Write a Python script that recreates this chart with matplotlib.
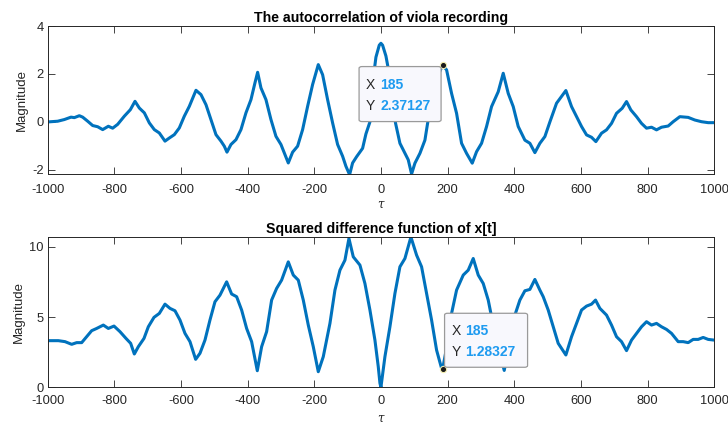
import numpy as np
import matplotlib
matplotlib.use("Agg")
from matplotlib import pyplot as plt
from matplotlib.patches import FancyBboxPatch

# autocorrelation r[tau]
tau_r = [-1000, -970, -950, -930, -920, -905, -895, -880, -865, -850, -835, -818, -805, -790,
         -770, -752, -738, -725, -710, -695, -680, -665, -648, -635, -620, -605, -590, -575,
         -555, -540, -525, -510, -495, -480, -470, -462, -450, -435, -420, -405, -390, -378,
         -370, -360, -345, -330, -315, -300, -290, -278, -265, -250, -235, -220, -205, -188,
         -175, -160, -145, -130, -115, -105, -94, -85, -73, -55, -45, -33, -25, -15, -5, 0,
         5, 15, 21, 30, 44, 57, 72, 82, 92, 102, 117, 132, 140, 150, 160, 172, 185, 197, 212,
         227, 242, 257, 274, 287, 302, 317, 332, 352, 367, 382, 397, 412, 432, 447, 462, 477,
         492, 507, 527, 542, 555, 572, 587, 602, 617, 632, 645, 662, 677, 692, 707, 724, 737,
         750, 767, 782, 797, 812, 827, 842, 862, 877, 897, 922, 942, 962, 982, 1000]
r_vals = [0.0, 0.03, 0.1, 0.2, 0.18, 0.26, 0.2, 0.03, -0.15, -0.2, -0.32, -0.18, -0.26, -0.1,
          0.24, 0.51, 0.86, 0.58, 0.38, -0.04, -0.32, -0.46, -0.8, -0.67, -0.53, -0.25, 0.24, 0.65,
          1.32, 1.14, 0.72, 0.1, -0.53, -0.8, -1.01, -1.26, -0.94, -0.74, -0.32, 0.38, 0.93, 1.63,
          2.07, 1.42, 0.93, 0.1, -0.6, -0.94, -1.29, -1.71, -1.26, -1.01, -0.32, 0.65, 1.56, 2.39,
          1.97, 0.93, -0.04, -0.94, -1.43, -1.85, -2.2, -1.71, -1.45, -1.1, -0.5, 0.0, 1.6, 2.7, 3.2, 3.28,
          3.2, 2.75, 2.3, 1.1, -0.06, -0.89, -1.31, -1.58, -2.17, -1.72, -1.31, -0.76, -0.06, 0.7, 1.35, 1.95, 2.37127, 2.17, 1.19,
          0.36, -0.89, -1.31, -1.72, -1.24, -0.89, -0.19, 0.64, 1.26, 2.03, 1.19, 0.64, -0.19, -0.76, -0.89, -1.28, -0.89,
          -0.61, 0.0, 0.78, 1.06, 1.31, 0.64, 0.22, -0.19, -0.54, -0.64, -0.82, -0.47, -0.33, -0.06, 0.36, 0.57, 0.85,
          0.5, 0.22, -0.06, -0.26, -0.22, -0.33, -0.22, -0.17, 0.01, 0.22, 0.19, 0.08, 0.01, -0.03, -0.03]

# squared difference function d[tau]
tau_d = [-1000, -968, -948, -928, -913, -898, -883, -868, -853, -833, -818, -801, -783, -765,
         -751, -740, -728, -711, -698, -681, -665, -648, -633, -618, -603, -588, -573, -556,
         -543, -528, -513, -498, -483, -463, -448, -433, -418, -403, -388, -371, -358, -343,
         -328, -313, -298, -278, -263, -248, -233, -218, -203, -188, -173, -153, -138, -123,
         -108, -96, -83, -63, -48, -33, -18, -8, -3, 0, 12, 27, 42, 57, 72, 90, 107, 122, 137,
         152, 167, 182, 185, 200, 212, 227, 247, 262, 277, 292, 307, 322, 330, 340, 355, 370, 385,
         402, 417, 432, 447, 462, 477, 487, 502, 517, 532, 555, 572, 587, 602, 617, 632, 644,
         657, 677, 692, 707, 722, 737, 752, 767, 782, 797, 812, 827, 842, 857, 872, 892, 907,
         922, 937, 952, 967, 982, 1000]
d_vals = [3.32, 3.32, 3.25, 3.06, 3.18, 3.18, 3.6, 4.03, 4.19, 4.43, 4.19, 4.36, 3.96, 3.48,
          3.13, 2.37, 2.89, 3.48, 4.31, 4.98, 5.26, 5.92, 5.62, 5.45, 4.79, 3.84, 3.25, 1.99,
          2.42, 3.36, 4.79, 6.09, 6.56, 7.51, 6.64, 6.45, 5.5, 4.19, 3.25, 1.18, 2.89, 3.96,
          6.21, 7.04, 7.63, 8.93, 7.99, 7.63, 6.21, 4.43, 2.89, 1.11, 2.18, 4.55, 6.92, 8.34,
          9.05, 10.6, 9.29, 8.7, 7.39, 5.5, 3.36, 1.47, 0.3, 0.0, 2.18, 4.31, 6.68, 8.58, 9.17, 10.7, 9.41, 8.58, 6.68,
          4.79, 2.65, 1.35, 1.28327, 3.2, 5.26, 6.92, 7.99, 8.34, 9.17, 7.99, 7.39, 6.21, 5.26, 4.0, 2.6, 1.2, 3.0,
          5.14, 6.21, 6.87, 6.97, 7.68, 6.92, 6.45, 5.5, 4.31, 3.13, 2.3, 3.6, 4.55, 5.5, 5.78, 5.92, 6.21,
          5.62, 5.14, 4.43, 3.6, 3.25, 2.61, 3.36, 3.84, 4.31, 4.67, 4.43, 4.55, 4.31, 4.12, 3.84, 3.25, 3.25,
          3.18, 3.41, 3.41, 3.55, 3.41, 3.36]

tip_x = 185
tip_r = 2.37127
tip_d = 1.28327

blue = '#0072BD'
tipblue = '#1E9BF0'
grey = '#262626'

plt.rcParams['font.family'] = ['Liberation Sans', 'DejaVu Sans']
plt.rcParams['mathtext.fontset'] = 'dejavuserif'
plt.rcParams['axes.unicode_minus'] = False

fig = plt.figure(figsize=(7.28, 4.23), dpi=100)
ax1 = fig.add_axes([0.0655, 0.5887, 0.9155, 0.3498])
ax2 = fig.add_axes([0.0655, 0.0844, 0.9155, 0.3553])


def style(ax, ylim, yticks, title, xpad, tpad):
    ax.set_xlim(-1000, 1000)
    ax.set_ylim(*ylim)
    ax.set_xticks(np.arange(-1000, 1001, 200))
    ax.set_yticks(yticks)
    ax.tick_params(direction='in', top=True, right=True, length=5, width=0.6,
                   colors=grey, labelsize=9.3, pad=3)
    ax.tick_params(axis='x', pad=xpad)
    for s in ax.spines.values():
        s.set_color(grey)
        s.set_linewidth(0.7)
    ax.set_title(title, fontsize=10.2, fontweight='bold', pad=3)
    ax.set_ylabel('Magnitude', fontsize=9.5, color=grey, labelpad=3)
    ax.set_xlabel(r'$\tau$', fontsize=8.5, color=grey, labelpad=tpad)


ax1.plot(tau_r, r_vals, color=blue, lw=2.2, solid_joinstyle='round')
style(ax1, (-2.17, 4), [-2, 0, 2, 4], 'The autocorrelation of viola recording', 7, 2)
ax2.plot(tau_d, d_vals, color=blue, lw=2.2, solid_joinstyle='round')
style(ax2, (0, 10.7), [0, 5, 10], 'Squared difference function of x[t]', 5.5, 4)


def datatip(ax, x, y, box_dx, box_dy, w, h, xval, yval):
    # box placed in pixels relative to the data point
    px, py = ax.transData.transform((x, y))
    inv = fig.transFigure.inverted()
    x0, y0 = inv.transform((px + box_dx, py + box_dy))
    x1, y1 = inv.transform((px + box_dx + w, py + box_dy + h))
    box = FancyBboxPatch((x0, y0), x1 - x0, y1 - y0, boxstyle='round,pad=0,rounding_size=0.004',
                         transform=fig.transFigure, facecolor='#F8F8FD', edgecolor='#9A9A9A',
                         lw=0.9, zorder=5)
    fig.patches.append(box)
    for k, (lab, val) in enumerate([('X', xval), ('Y', yval)]):
        ty = py + box_dy + h - 18 - 21 * k
        tx = px + box_dx + 7
        a, b = inv.transform((tx, ty))
        fig.text(a, b, lab, fontsize=10, color=grey, va='center', zorder=6)
        a, b = inv.transform((tx + 14, ty))
        fig.text(a, b, val, fontsize=10, color=tipblue, fontweight='bold', va='center', zorder=6)
    ax.plot([x], [y], 'o', ms=4.5, mfc='#1a1a1a', mec='#F4EFB0', mew=0.8, zorder=7, clip_on=False)


datatip(ax1, tip_x, tip_r, -83.5, -56.5, 82, 55, str(tip_x), '%.5f' % tip_r)
datatip(ax2, tip_x, tip_d, 2, 2, 83, 54, str(tip_x), '%.5f' % tip_d)

fig.savefig('out.png', dpi=100)
